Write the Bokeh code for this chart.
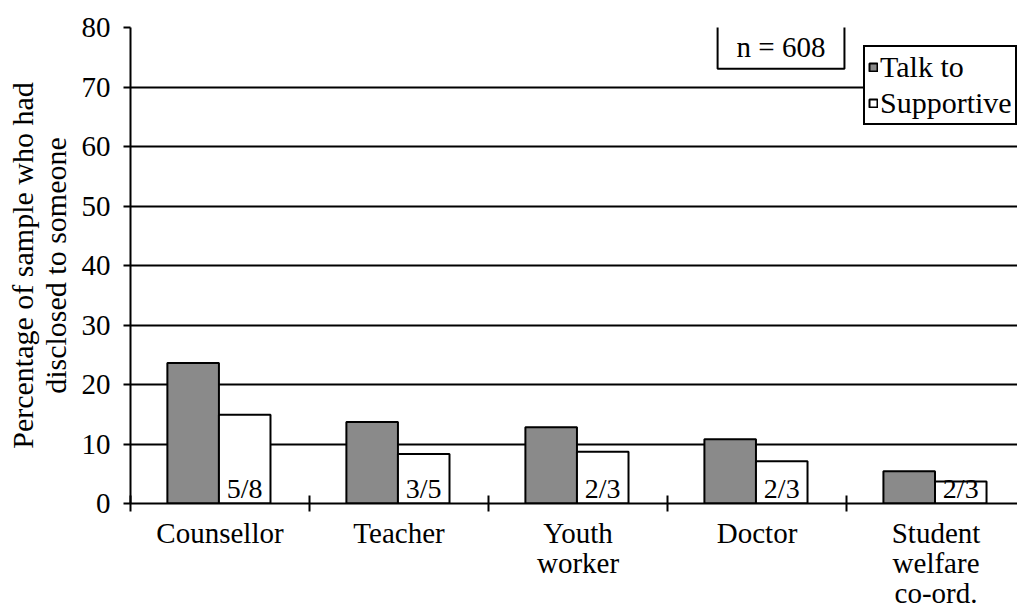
from bokeh.plotting import figure
from bokeh.models import (ColumnDataSource, FixedTicker, Range1d, Label, Legend, LegendItem)
from bokeh.core.properties import value
from bokeh.embed import file_html
from bokeh.resources import INLINE

categories = ["Counsellor", "Teacher", "Youth\nworker", "Doctor", "Student\nwelfare\nco-ord."]
talk_to = [23.6, 13.7, 12.8, 10.8, 5.4]
supportive = [14.9, 8.3, 8.7, 7.1, 3.7]
supportive_labels = ["5/8", "3/5", "2/3", "2/3", "2/3"]
y_ticks = [0, 10, 20, 30, 40, 50, 60, 70, 80]
n_label = "n = 608"

FONT = "'Liberation Serif', 'Times New Roman', serif"
FS = "29px"
BW = 0.288

idx = list(range(len(categories)))
src = ColumnDataSource(dict(
    xt=[i + 0.494 - BW / 2 for i in idx],
    xs=[i + 0.494 + BW / 2 for i in idx],
    talk=talk_to, sup=supportive, lab=supportive_labels,
    base=[0] * len(idx),
))

p = figure(width=1017, height=612, output_backend="svg", toolbar_location=None,
           x_range=Range1d(0, 4.955), y_range=Range1d(0, 80),
           min_border_left=130, min_border_right=0, min_border_top=27, min_border_bottom=109)
p.outline_line_color = None
p.background_fill_color = "white"
p.border_fill_color = "white"

r1 = p.vbar(x="xt", top="talk", width=BW, source=src, fill_color="#8a8a8a",
            line_color="black", line_width=2)
r2 = p.vbar(x="xs", top="sup", width=BW, source=src, fill_color="white",
            line_color="black", line_width=2)
p.text(x="xs", y="base", text="lab", source=src, text_font=value(FONT),
       text_font_size="28px", text_align="center", text_baseline="bottom",
       y_offset=0, text_color="black")

# grid
p.xgrid.grid_line_color = None
p.ygrid.grid_line_color = "black"
p.ygrid.grid_line_width = 2
p.ygrid.ticker = FixedTicker(ticks=y_ticks)

# y axis
ya = p.yaxis[0]
ya.ticker = FixedTicker(ticks=y_ticks)
ya.axis_line_width = 2
ya.major_tick_line_width = 2
ya.major_tick_in = 0
ya.major_tick_out = 7
ya.minor_tick_line_color = None
ya.major_label_text_font = FONT
ya.major_label_text_font_size = FS
ya.major_label_text_color = "black"
ya.major_label_standoff = 13
ya.axis_label = "Percentage of sample who had\ndisclosed to someone"
ya.axis_label_text_font = FONT
ya.axis_label_text_font_size = "30px"
ya.axis_label_text_font_style = "normal"
ya.axis_label_text_color = "black"
ya.axis_label_text_line_height = 1.0
ya.axis_label_standoff = 7

# x axis
xa = p.xaxis[0]
xa.ticker = FixedTicker(ticks=[i + 0.5 for i in idx], minor_ticks=list(range(len(idx) + 1)))
xa.major_label_overrides = {i + 0.5: c for i, c in zip(idx, categories)}
xa.axis_line_width = 2
xa.major_tick_line_color = None
xa.major_tick_in = 0
xa.major_tick_out = 8
xa.minor_tick_line_width = 2
xa.minor_tick_in = 8
xa.minor_tick_out = 8
xa.major_label_text_font = FONT
xa.major_label_text_font_size = FS
xa.major_label_text_color = "black"
xa.major_label_text_line_height = 0.95
xa.major_label_standoff = 5

# n label
p.add_layout(Label(x=3.634, y=76.7, text=n_label, text_font=FONT, text_font_size=FS,
                   text_align="center", text_baseline="middle", text_color="black",
                   border_line_color="black", border_line_width=2, border_line_alpha=1.0,
                   background_fill_color="white", padding=(19, 19, 5, 6)))

legend = Legend(items=[LegendItem(label="Talk to", renderers=[r1]),
                       LegendItem(label="Supportive", renderers=[r2])],
                location=(733, 378), margin=0, padding=3, spacing=2,
                glyph_width=10, glyph_height=10, label_standoff=2,
                label_text_font=FONT, label_text_font_size="30px",
                label_text_color="black", border_line_color="black",
                border_line_width=2, border_line_alpha=1.0,
                background_fill_color="white", background_fill_alpha=1.0)
p.add_layout(legend)

open("out.html", "w").write(file_html(p, INLINE))
